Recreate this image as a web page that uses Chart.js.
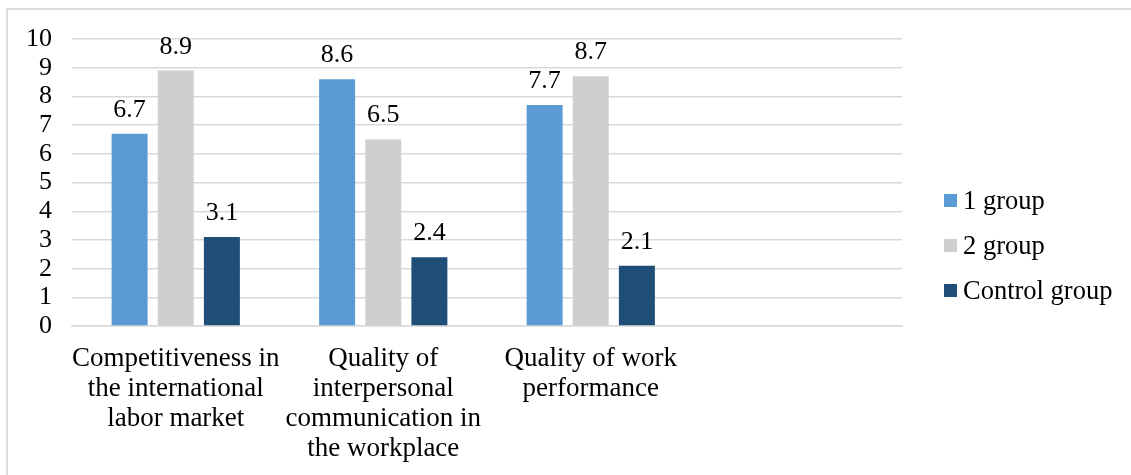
<!DOCTYPE html>
<html>
<head>
<meta charset="utf-8">
<script src="https://cdn.jsdelivr.net/npm/chart.js@4/dist/chart.umd.min.js"></script>
<style>
    body { margin: 0; background: #fff; overflow: hidden; }
    #wrap { position: relative; width: 1131px; height: 475px; }
    #frame { position: absolute; left: 6px; top: 8px; width: 1200px; height: 600px;
             border-top: 2px solid #dedede; border-left: 2px solid #dedede; }
    #chart { position: absolute; left: 0; top: 0; }
</style>
</head>
<body>
<div id="wrap">
    <div id="frame"></div>
    <canvas id="chart" width="1131" height="475"></canvas>
</div>
<script>
// categories (4th slot is empty in the original)
const categories = [
    ["Competitiveness in", "the international", "labor market"],
    ["Quality of", "interpersonal", "communication in", "the workplace"],
    ["Quality of work", "performance"],
    ""
];
const group1 = [6.7, 8.6, 7.7, null];
const group2 = [8.9, 6.5, 8.7, null];
const controlGroup = [3.1, 2.4, 2.1, null];
const seriesNames = ["1 group", "2 group", "Control group"];
const seriesColors = ["#5B9BD5", "#D0CECE", "#1F4E79"];
const yTicks = [0, 1, 2, 3, 4, 5, 6, 7, 8, 9, 10];

const FONT = "'Liberation Serif', 'Times New Roman', serif";

// value labels above bars
const valueLabels = {
    id: "valueLabels",
    afterDatasetsDraw(chart) {
        let ctx = chart.ctx;
        ctx.save();
        ctx.font = "26px " + FONT;
        ctx.fillStyle = "#000";
        ctx.textAlign = "center";
        ctx.textBaseline = "alphabetic";
        chart.data.datasets.forEach((ds, i) => {
            chart.getDatasetMeta(i).data.forEach((bar, j) => {
                let v = ds.data[j];
                if (v === null || v === undefined) return;
                ctx.fillText(v.toFixed(1), bar.x, bar.y - 17);
            });
        });
        ctx.restore();
    }
};

// legend drawn at the right, Excel-like (small box, tight gap)
const sideLegend = {
    id: "sideLegend",
    afterDraw(chart) {
        let ctx = chart.ctx;
        let area = chart.chartArea;
        let x = area.right + 42;
        let yMid = 246;
        let step = 45;
        ctx.save();
        ctx.font = "26.5px " + FONT;
        ctx.textBaseline = "middle";
        ctx.textAlign = "left";
        chart.data.datasets.forEach((ds, i) => {
            let y = yMid + (i - 1) * step;
            ctx.fillStyle = ds.backgroundColor;
            ctx.fillRect(x, y - 7, 13, 13);
            ctx.fillStyle = "#000";
            ctx.fillText(ds.label, x + 19, y + 1);
        });
        ctx.restore();
    }
};

let ctx = document.getElementById("chart");
new Chart(ctx, {
    type: "bar",
    data: {
        labels: categories,
        datasets: [
            { label: seriesNames[0], data: group1, backgroundColor: seriesColors[0] },
            { label: seriesNames[1], data: group2, backgroundColor: seriesColors[1] },
            { label: seriesNames[2], data: controlGroup, backgroundColor: seriesColors[2] }
        ]
    },
    options: {
        responsive: false,
        animation: false,
        devicePixelRatio: 1,
        categoryPercentage: 0.667,
        barPercentage: 0.78,
        layout: { padding: { left: 6, right: 229, top: 39, bottom: -7 } },
        plugins: {
            legend: { display: false },
            tooltip: { enabled: false }
        },
        scales: {
            x: {
                grid: { display: false, drawTicks: false },
                border: { display: true, color: "#d9d9d9", width: 1.5 },
                ticks: {
                    color: "#000",
                    padding: 18,
                    maxRotation: 0,
                    autoSkip: false,
                    font: { family: FONT, size: 27, lineHeight: 1.11 }
                }
            },
            y: {
                min: 0,
                max: 10,
                afterBuildTicks: (axis) => { axis.ticks = yTicks.map(v => ({ value: v })); },
                grid: { color: "#d9d9d9", lineWidth: 1.5, drawTicks: false },
                border: { display: false },
                ticks: {
                    color: "#000",
                    padding: 20,
                    autoSkip: false,
                    font: { family: FONT, size: 26 }
                }
            }
        }
    },
    plugins: [valueLabels, sideLegend]
});
</script>
</body>
</html>
